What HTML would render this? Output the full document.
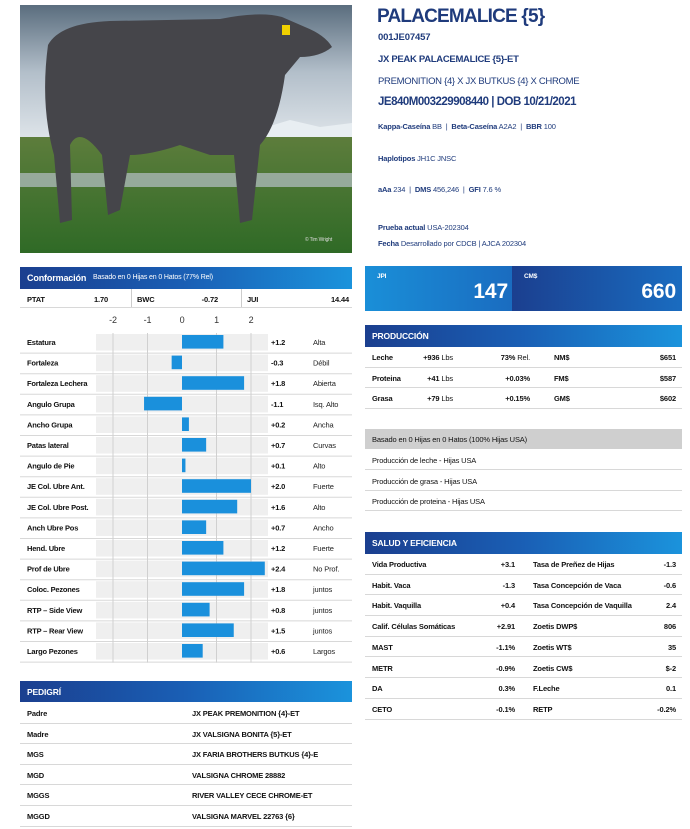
<!DOCTYPE html>
<html><head><meta charset="utf-8">
<style>
*{margin:0;padding:0;box-sizing:border-box}
body{width:690px;height:829px;background:#fff;position:relative;overflow:hidden;font-family:"Liberation Sans Narrow","Liberation Sans",sans-serif;color:#111;font-size:7.5px;letter-spacing:-0.15px}
.a{position:absolute;white-space:nowrap}
.b{font-weight:bold}
.nv{color:#1f3b7c}
.hdr{position:absolute;background:linear-gradient(90deg,#1b3f8f,#1a5fb5 50%,#1b93dc);color:#fff;font-weight:bold}
.row{position:absolute;border-bottom:1px solid #d8d8d8;height:20px}
.row span{position:absolute;top:6px;white-space:nowrap}
</style></head><body>

<svg class="a" style="left:20px;top:5px" width="332" height="248" viewBox="0 0 332 248">
<defs><linearGradient id="sky" x1="0" y1="0" x2="0" y2="1"><stop offset="0" stop-color="#5a6d7e"/><stop offset="0.5" stop-color="#b3bfca"/><stop offset="1" stop-color="#dfe5ea"/></linearGradient>
<linearGradient id="gr" x1="0" y1="0" x2="0" y2="1"><stop offset="0" stop-color="#5d7d3c"/><stop offset="1" stop-color="#2f6a26"/></linearGradient></defs>
<rect width="332" height="135" fill="url(#sky)"/>
<path d="M180 128 L210 118 L240 124 L270 115 L300 122 L332 118 L332 135 L180 135Z" fill="#e8eef2"/>
<rect y="132" width="332" height="116" fill="url(#gr)"/>
<rect y="168" width="332" height="14" fill="#b7c0c8" opacity="0.7"/>
<path d="M28 40 Q40 18 90 16 L200 14 Q240 6 262 12 L285 22 Q305 30 312 42 Q300 52 280 52 L265 70 Q258 120 240 140 L232 215 L220 218 L214 150 L190 150 L160 140 Q130 150 110 150 L100 205 L88 210 L82 150 Q60 120 50 140 L52 215 L40 218 L34 150 Q20 100 28 40Z" fill="#45454a"/>
<rect x="262" y="20" width="8" height="10" fill="#f0d000"/>
</svg>
<div class="a" style="left:305px;top:237px;font-size:5px;color:#ddd">© Tim Wright</div>

<div class="a b nv" style="left:377px;top:6px;font-size:19px;letter-spacing:-0.8px">PALACEMALICE {5}</div>
<div class="a b nv" style="left:378px;top:32px;font-size:9.5px">001JE07457</div>
<div class="a b nv" style="left:378px;top:54px;font-size:9.5px;letter-spacing:-0.3px">JX PEAK PALACEMALICE {5}-ET</div>
<div class="a nv" style="left:378px;top:76px;font-size:9.5px;letter-spacing:-0.3px">PREMONITION {4} X JX BUTKUS {4} X CHROME</div>
<div class="a b nv" style="left:378px;top:96px;font-size:11.5px;letter-spacing:-0.5px">JE840M003229908440 | DOB 10/21/2021</div>
<div class="a nv" style="left:378px;top:122px"><b>Kappa-Caseína</b> BB &nbsp;| &nbsp;<b>Beta-Caseína</b> A2A2 &nbsp;| &nbsp;<b>BBR</b> 100</div>
<div class="a nv" style="left:378px;top:154px"><b>Haplotipos</b> JH1C JNSC</div>
<div class="a nv" style="left:378px;top:185px"><b>aAa</b> 234 &nbsp;| &nbsp;<b>DMS</b> 456,246 &nbsp;| &nbsp;<b>GFI</b> 7.6 %</div>
<div class="a nv" style="left:378px;top:223px"><b>Prueba actual</b> USA-202304</div>
<div class="a nv" style="left:378px;top:239px"><b>Fecha</b> Desarrollado por CDCB | AJCA 202304</div>

<!-- Conformation -->
<div class="hdr" style="left:20px;top:267px;width:332px;height:22px"><span class="a" style="left:7px;top:6px;font-size:9px">Conformación</span><span class="a" style="left:73px;top:7px;font-size:7px;font-weight:normal">Basado en 0 Hijas en 0 Hatos (77% Rel)</span></div>
<div class="row" style="left:20px;top:289px;width:332px;height:19px">
<span class="b" style="left:7px">PTAT</span><span class="b" style="right:244px">1.70</span>
<span style="left:111px;top:0;height:18px;border-left:1px solid #ccc"></span>
<span class="b" style="left:117px">BWC</span><span class="b" style="right:134px">-0.72</span>
<span style="left:221px;top:0;height:18px;border-left:1px solid #ccc"></span>
<span class="b" style="left:227px">JUI</span><span class="b" style="right:3px">14.44</span></div>
<svg id="chart" class="a" style="left:20px;top:308px" width="332" height="356"></svg>

<!-- JPI / CM$ -->
<div class="a" style="left:365px;top:266px;width:147px;height:45px;background:linear-gradient(90deg,#1a8fd8,#1a6cc0)"><span class="a b" style="left:12px;top:7px;color:#fff;font-size:6.5px">JPI</span><span class="a b" style="right:4px;top:14px;color:#fff;font-size:21px">147</span></div>
<div class="a" style="left:512px;top:266px;width:170px;height:45px;background:linear-gradient(90deg,#1b3f8f,#1a6cc0)"><span class="a b" style="left:12px;top:7px;color:#fff;font-size:6.5px">CM$</span><span class="a b" style="right:6px;top:14px;color:#fff;font-size:21px">660</span></div>

<div class="hdr" style="left:365px;top:325px;width:317px;height:22px;font-size:8.5px"><span class="a" style="left:7px;top:6px">PRODUCCIÓN</span></div>
<div id="prod"></div>
<div class="a" style="left:365px;top:429px;width:317px;height:20px;background:#cfcfcf"><span class="a" style="left:7px;top:6px">Basado en 0 Hijas en 0 Hatos (100% Hijas USA)</span></div>
<div class="row" style="left:365px;top:450px;width:317px"><span style="left:7px">Producción de leche - Hijas USA</span></div>
<div class="row" style="left:365px;top:471px;width:317px"><span style="left:7px">Producción de grasa - Hijas USA</span></div>
<div class="row" style="left:365px;top:491px;width:317px"><span style="left:7px">Producción de proteina - Hijas USA</span></div>

<div class="hdr" style="left:365px;top:532px;width:317px;height:22px;font-size:8.5px"><span class="a" style="left:7px;top:6px">SALUD Y EFICIENCIA</span></div>
<div id="salud"></div>

<div class="hdr" style="left:20px;top:681px;width:332px;height:21px;font-size:8.5px"><span class="a" style="left:7px;top:6px">PEDIGRÍ</span></div>
<div id="ped"></div>

<script>
const traits=["Estatura","Fortaleza","Fortaleza Lechera","Angulo Grupa","Ancho Grupa","Patas lateral","Angulo de Pie","JE Col. Ubre Ant.","JE Col. Ubre Post.","Anch Ubre Pos","Hend. Ubre","Prof de Ubre","Coloc. Pezones","RTP – Side View","RTP – Rear View","Largo Pezones"];
const values=[1.2,-0.3,1.8,-1.1,0.2,0.7,0.1,2.0,1.6,0.7,1.2,2.4,1.8,0.8,1.5,0.6];
const descriptors=["Alta","Débil","Abierta","Isq. Alto","Ancha","Curvas","Alto","Fuerte","Alto","Ancho","Fuerte","No Prof.","juntos","juntos","juntos","Largos"];
const ticks=[-2,-1,0,1,2];

const NS="http://www.w3.org/2000/svg";
const svg=document.getElementById('chart');
const x0=162,unit=34.5,trackL=76,trackR=248,rowTop=25,rowH=20.6;
const xs=v=>x0+v*unit;
function mk(tag,attrs,parent){const e=document.createElementNS(NS,tag);for(const k in attrs)e.setAttribute(k,attrs[k]);(parent||svg).appendChild(e);return e;}
traits.forEach((t,i)=>{
  const y=rowTop+i*rowH;
  const tr=mk('rect',{x:trackL,y:y+1,width:trackR-trackL,height:rowH-4,fill:'#efefef'});
  
  
  mk('line',{x1:0,x2:332,y1:y+rowH-0.5,y2:y+rowH-0.5,stroke:'#d8d8d8'});
});
ticks.forEach(tk=>{
  const tx=mk('text',{x:xs(tk),y:15,'text-anchor':'middle','font-size':'9','fill':'#333','font-family':'Liberation Sans'});
  tx.textContent=tk;
  
  
  if(tk!==0)mk('line',{x1:xs(tk),x2:xs(tk),y1:rowTop,y2:rowTop+traits.length*rowH,stroke:'#d0d0d0'});
});
traits.forEach((t,i)=>{
  const y=rowTop+i*rowH;
  const v=values[i];
  const b=mk('rect',{x:Math.min(xs(0),xs(v)),y:y+2,width:Math.abs(xs(v)-xs(0)),height:rowH-7,fill:'#1a90dc'});
  
  
  const l=mk('text',{x:7,y:y+12,'font-size':'7.5','font-weight':'bold',fill:'#111','letter-spacing':'-0.2'});l.textContent=t;
  
  
  const vt=mk('text',{x:251,y:y+12,'font-size':'7.5','font-weight':'bold',fill:'#111'});vt.textContent=(v>0?'+':'')+v.toFixed(1);
  
  
  const d=mk('text',{x:293,y:y+12,'font-size':'7.5',fill:'#222'});d.textContent=descriptors[i];
  
  
});
svg.querySelectorAll('text').forEach(e=>{if(!e.getAttribute('font-family'))e.setAttribute('font-family','Liberation Sans Narrow, Liberation Sans, sans-serif')});

function rows(container,list,left,top,width,h,render,name){
  const c=document.getElementById(container);
  list.forEach((r,i)=>{const d=document.createElement('div');d.className='row';
    d.style.left=left+'px';d.style.top=(top+i*h)+'px';d.style.width=width+'px';d.style.height=h+'px';
    d.innerHTML=render(r);
    
    
    c.appendChild(d);});
}
const prodRows=[["Leche","+936","73%","NM$","$651"," Rel."],["Proteina","+41","+0.03%","FM$","$587",""],["Grasa","+79","+0.15%","GM$","$602",""]];
rows('prod',prodRows,365,347,317,20.5,r=>`<span class="b" style="left:7px">${r[0]}</span><span style="right:229px"><b>${r[1]}</b> Lbs</span><span style="right:152px"><b>${r[2]}</b>${r[5]}</span><span class="b" style="left:189px">${r[3]}</span><span class="b" style="right:6px">${r[4]}</span>`,'production-row');
const saludRows=[["Vida Productiva","+3.1","Tasa de Preñez de Hijas","-1.3"],["Habit. Vaca","-1.3","Tasa Concepción de Vaca","-0.6"],["Habit. Vaquilla","+0.4","Tasa Concepción de Vaquilla","2.4"],["Calif. Células Somáticas","+2.91","Zoetis DWP$","806"],["MAST","-1.1%","Zoetis WT$","35"],["METR","-0.9%","Zoetis CW$","$-2"],["DA","0.3%","F.Leche","0.1"],["CETO","-0.1%","RETP","-0.2%"]];
rows('salud',saludRows,365,554,317,20.7,r=>`<span class="b" style="left:7px">${r[0]}</span><span class="b" style="right:167px">${r[1]}</span><span class="b" style="left:168px">${r[2]}</span><span class="b" style="right:6px">${r[3]}</span>`,'salud-row');
const pedRows=[["Padre","JX PEAK PREMONITION {4}-ET"],["Madre","JX VALSIGNA BONITA {5}-ET"],["MGS","JX FARIA BROTHERS BUTKUS {4}-E"],["MGD","VALSIGNA CHROME 28882"],["MGGS","RIVER VALLEY CECE CHROME-ET"],["MGGD","VALSIGNA MARVEL 22763 {6}"]];
rows('ped',pedRows,20,703,332,20.6,r=>`<span class="b" style="left:7px">${r[0]}</span><span class="b" style="left:172px">${r[1]}</span>`,'pedigree-row');
</script>
</body></html>
